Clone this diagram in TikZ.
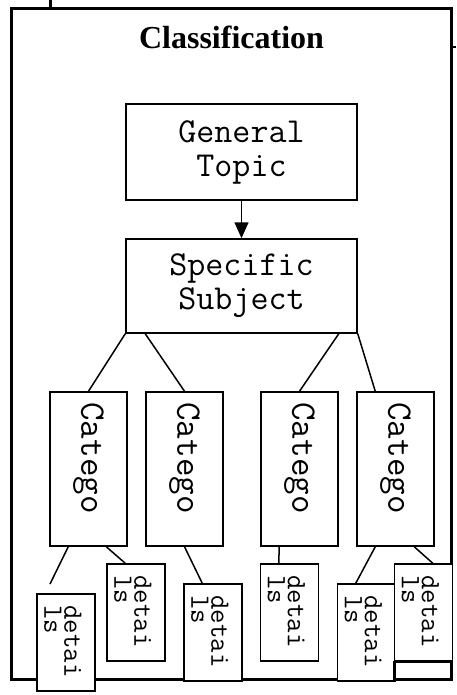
\documentclass[tikz,border=0pt]{standalone}
\usepackage{fontspec}
\setmainfont{Liberation Serif}
\usetikzlibrary{arrows.meta}
\tikzset{
  box/.style = {draw, line width = 1.5pt, fill = white, inner sep = 0pt},
  catbox/.style = {box, minimum width = 77pt, minimum height = 154pt},
  detbox/.style = {box, minimum width = 58pt, minimum height = 97pt},
  bigtext/.style = {font = \ttfamily\fontsize{35}{34}\selectfont, align = center},
  cattext/.style = {font = \ttfamily\fontsize{36}{34}\selectfont, rotate = -90, anchor = west, inner sep = 0pt},
  dettext/.style = {font = \ttfamily\fontsize{28}{20}\selectfont, rotate = -90, anchor = north west, align = left, inner sep = 0pt},
  link/.style = {line width = 1.5pt}
}
\begin{document}
\begin{tikzpicture}[x = 1pt, y = -1pt]
                \useasboundingbox (0, 0) rectangle (456, 695);
                \draw [line width = 3pt] (50.5, 0) -- (50.5, 8.5);
                \draw [line width = 2pt] (451.5, 47) -- (456, 47);
                \node [draw, line width = 3pt, inner sep = 0pt, minimum width = 440pt, minimum height = 670.5pt] (frame) at (231.5, 343.75) {};
                \node [font = \bfseries\fontsize{32}{38}\selectfont, anchor = base] (title) at (231.5, 49) {Classification};
                \node [box, bigtext, minimum width = 231pt, minimum height = 96pt] (topic) at (241.5, 152) {General\\Topic};
                \node [box, bigtext, minimum width = 231pt, minimum height = 94pt] (subject) at (241.5, 286) {Specific\\Subject};
                \draw [link, -{Triangle[length = 16pt, width = 14pt]}] (topic) -- (subject);
                \node [catbox] (cat1) at (88.5, 469) {};
                \node [catbox] (cat2) at (184.5, 469) {};
                \node [catbox] (cat3) at (299.5, 469) {};
                \node [catbox] (cat4) at (395.5, 469) {};
                \node [cattext] (cat1 text) at ([yshift = -11pt]cat1.north) {Catego};
                \node [cattext] (cat2 text) at ([yshift = -11pt]cat2.north) {Catego};
                \node [cattext] (cat3 text) at ([yshift = -11pt]cat3.north) {Catego};
                \node [cattext] (cat4 text) at ([yshift = -11pt]cat4.north) {Catego};
                \draw [link] (subject.south west) -- (cat1.north);
                \draw [link] (cat2.north west |- subject.south) -- (cat2.north);
                \draw [link] (cat3.north east |- subject.south) -- (cat3.north);
                \draw [link] (subject.south east) -- ([xshift = 19pt]cat4.north west);
                \node [detbox] (det1) at (66, 642.5) {};
                \node [detbox] (det2) at (136, 612.5) {};
                \node [detbox] (det3) at (213, 632.5) {};
                \node [detbox] (det4) at (289.5, 612.5) {};
                \node [detbox] (det5) at (366.5, 632.5) {};
                \node [detbox] (det6) at (423.5, 612.5) {};
                \draw [link] (det6.south west) rectangle (451.5, 679);
                \node [dettext] (det1 text) at ([xshift = -14pt, yshift = -12pt]det1.north east) {detai\\ls};
                \node [dettext] (det2 text) at ([xshift = -14pt, yshift = -12pt]det2.north east) {detai\\ls};
                \node [dettext] (det3 text) at ([xshift = -14pt, yshift = -12pt]det3.north east) {detai\\ls};
                \node [dettext] (det4 text) at ([xshift = -14pt, yshift = -12pt]det4.north east) {detai\\ls};
                \node [dettext] (det5 text) at ([xshift = -14pt, yshift = -12pt]det5.north east) {detai\\ls};
                \node [dettext] (det6 text) at ([xshift = -14pt, yshift = -12pt]det6.north east) {detai\\ls};
                \coordinate (loose) at (50, 584);
                \draw [link] ([xshift = 19pt]cat1.south west) -- (loose);
                \draw [link] ([xshift = 57pt]cat1.south west) -- ([xshift = 19pt]det2.north west);
                \draw [link] (cat2.south) -- ([xshift = 19pt]det3.north west);
                \draw [link] ([xshift = 19pt]cat3.south west) -- ([xshift = 19pt]det4.north west);
                \draw [link] ([xshift = 19pt]cat4.south west) -- ([xshift = 19pt]det5.north west);
                \draw [link] ([xshift = 58pt]cat4.south west) -- ([xshift = 39pt]det6.north west);
            \end{tikzpicture}
\end{document}
